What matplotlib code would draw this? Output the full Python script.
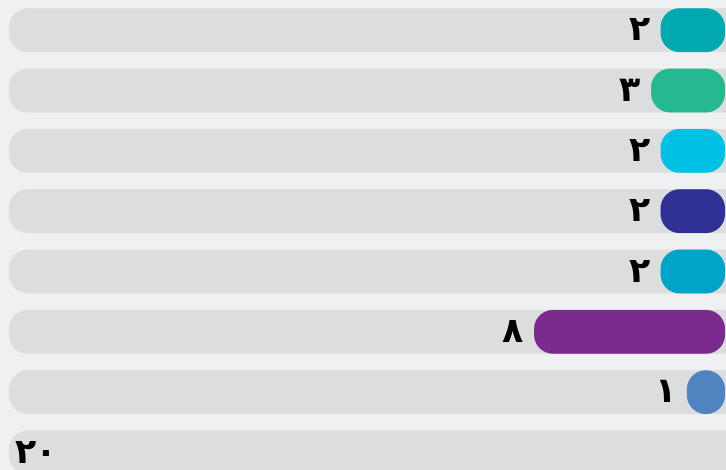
"""
horizontal rtl progress bars with persian digits
"""

import numpy as np
import matplotlib
matplotlib.use("Agg")
import matplotlib.pyplot as plt
from matplotlib.patches import Polygon
from matplotlib.transforms import IdentityTransform

# bar lengths (domain 0..30, right to left)
values = [2.7, 3.1, 2.7, 2.7, 2.7, 8.0, 1.6]
labels = ["۲", "۳", "۲", "۲", "۲", "۸", "۱"]
colors = ["#00a8b0", "#26b98f", "#00c0e4", "#2e3192",
          "#00a4c8", "#7b2a8e", "#4f84c0"]
total_value = 20
total_label = "۲۰"
domain_max = 30

bg = "#eff0f2"
track = "#dcdddf"

fig = plt.figure(figsize=(7.26, 4.70), dpi=100, facecolor=bg)
ax = fig.add_axes([0, 0, 1, 1])
ax.set_facecolor(bg)
ax.set_xlim(domain_max + 0.37, -0.04)   # rtl
ax.set_ylim(7.29, -0.5)
ax.axis("off")

bar_frac = 0.727   # bar height, in row units
rad_px = 19


def rounded(ax, xa, xb, yc, color, z):
    """rounded rect between data x values xa, xb; corners done in pixels"""
    pts = ax.transData.transform([(xa, yc - bar_frac / 2),
                                  (xb, yc + bar_frac / 2)])
    l, r = sorted(pts[:, 0])
    b, t = sorted(pts[:, 1])
    rx = min(rad_px, (r - l) / 2)
    ry = min(rad_px, (t - b) / 2)
    th = np.linspace(0, np.pi / 2, 20)
    corners = [(r - rx, t - ry, 0), (l + rx, t - ry, 1),
               (l + rx, b + ry, 2), (r - rx, b + ry, 3)]
    verts = []
    for cx, cy, k in corners:
        a = th + k * np.pi / 2
        verts += list(zip(cx + rx * np.cos(a), cy + ry * np.sin(a)))
    p = Polygon(verts, closed=True, fc=color, ec="none", zorder=z,
                transform=IdentityTransform())
    ax.add_patch(p)


nrows = len(values) + 1
for i in range(nrows):
    # track, runs past the right edge
    rounded(ax, domain_max, -1.0, i, track, 1)

for i, (v, lab, c) in enumerate(zip(values, labels, colors)):
    rounded(ax, v, 0, i, c, 2)
    ax.annotate(lab, (v, i), xytext=(-8, 0), textcoords="offset points",
                ha="right", va="center", fontsize=25, fontweight="bold",
                family="DejaVu Sans", color="black", zorder=3)

# total row: label sits at the far end of the track
ax.annotate(total_label, (domain_max, nrows - 1), xytext=(4, 0),
            textcoords="offset points", ha="left", va="center",
            fontsize=25, fontweight="bold", family="DejaVu Sans",
            color="black", zorder=3)

plt.savefig("out.png", dpi=100, facecolor=bg)
